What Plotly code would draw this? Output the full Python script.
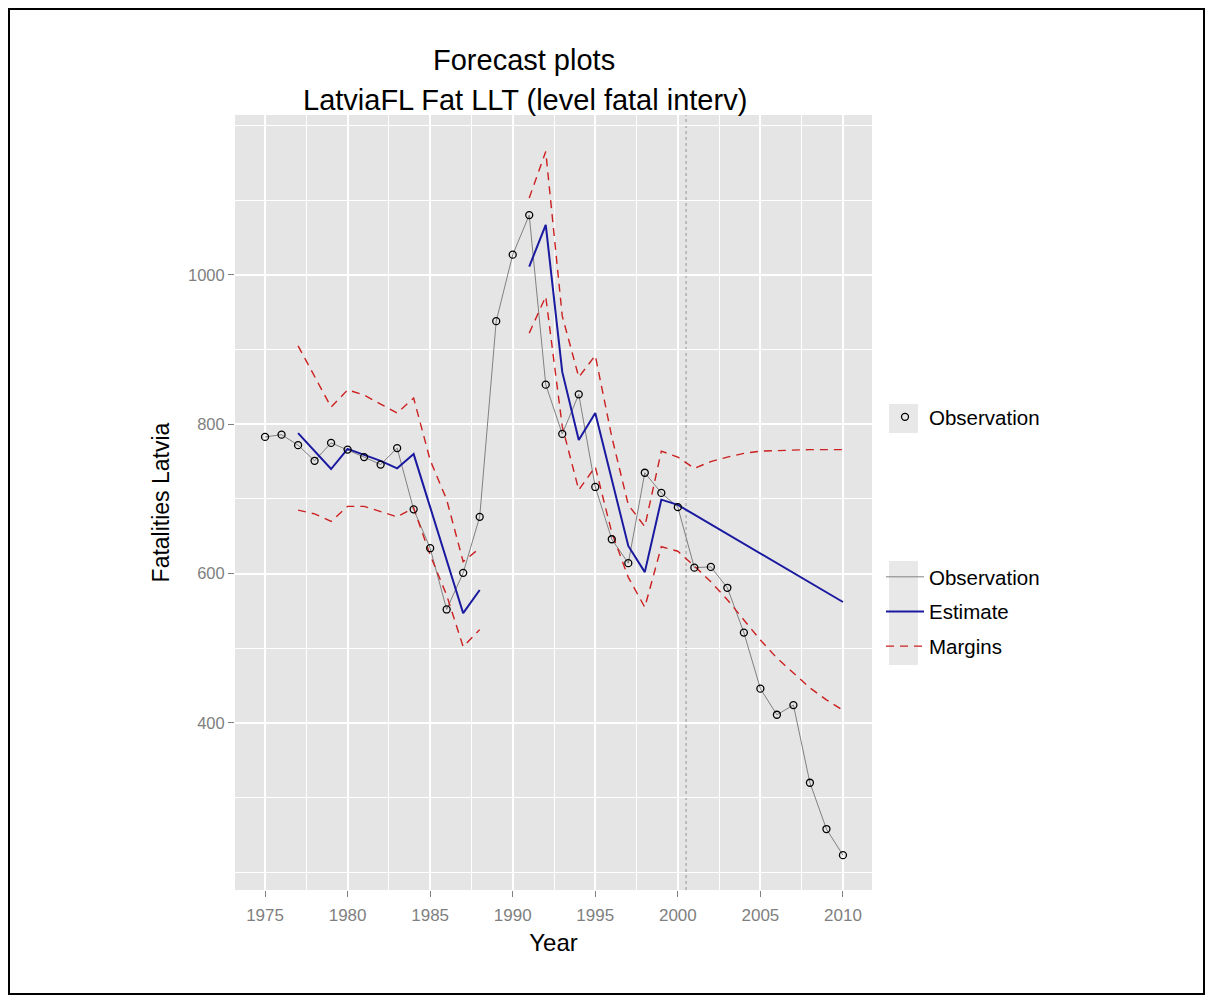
import plotly.graph_objects as go

years = list(range(1975, 2011))

observation = [783, 786, 772, 751, 775, 766, 756, 746, 768, 686, 634, 552, 601, 676,
               938, 1027, 1080, 853, 787, 840, 716, 646, 614, 735, 708, 689,
               608, 609, 581, 521, 446, 411, 424, 320, 258, 223]

estimate = [None, None, 788, 764, 740, 767, 759, 751, 741, 760, 689, 618, 547, 578,
            None, None, 1011, 1067, 870, 779, 815, 727, 637, 602, 699, 692,
            679, 666, 653, 640, 627, 614, 601, 588, 575, 562]

margin_upper = [None, None, 905, 863, 823, 846, 839, 827, 815, 835, 752, 699, 616, 634,
                None, None, 1103, 1165, 945, 863, 892, 783, 692, 663, 764, 756,
                741, 750, 756, 761, 764, 765, 766, 766, 766, 766]

margin_lower = [None, None, 685, 680, 670, 690, 690, 683, 676, 688, 625, 571, 502, 525,
                None, None, 922, 971, 797, 712, 743, 655, 595, 555, 636, 630,
                610, 589, 565, 538, 511, 487, 467, 447, 431, 417]

x_ticks = [1975, 1980, 1985, 1990, 1995, 2000, 2005, 2010]
y_ticks = [400, 600, 800, 1000]
forecast_start = 2000.5

FONT = "Liberation Sans, Arial, sans-serif"
OBS_GRAY = "#808080"
EST_BLUE = "#1a1aa0"
MARGIN_RED = "#cc1f1f"

fig = go.Figure()

fig.add_trace(go.Scatter(x=years, y=observation, mode="lines", name="Observation",
                         line=dict(color=OBS_GRAY, width=1), legend="legend2",
                         legendgroup="g1"))
fig.add_trace(go.Scatter(x=years, y=estimate, mode="lines", name="Estimate",
                         line=dict(color=EST_BLUE, width=2), connectgaps=False,
                         legend="legend2", legendgroup="g2"))
fig.add_trace(go.Scatter(x=years, y=margin_upper, mode="lines", name="Margins",
                         line=dict(color=MARGIN_RED, width=1.4, dash="8px,6px"),
                         connectgaps=False, legend="legend2", legendgroup="g3"))
fig.add_trace(go.Scatter(x=years, y=margin_lower, mode="lines", name="Margins",
                         line=dict(color=MARGIN_RED, width=1.4, dash="8px,6px"),
                         connectgaps=False, showlegend=False, legendgroup="g3"))
fig.add_trace(go.Scatter(x=years, y=observation, mode="markers", name="Observation",
                         marker=dict(symbol="circle-open", size=7, color="black",
                                     line=dict(width=1.3, color="black")),
                         legend="legend"))

OFF = 8  # page body margin
W, H = 1197, 987
L, T = 235 - OFF, 115 - OFF
R = W - (872 - OFF)
B = H - (890 - OFF)
PW, PH = W - L - R, H - T - B


def px_x(px):
    return (px - OFF - L) / PW


def px_y(py):
    return (H - B - (py - OFF)) / PH


def fx(fpx):
    return (fpx - L) / PW


def fy(fpy):
    return (H - B - fpy) / PH


shapes = [
    dict(type="line", xref="x", yref="paper", x0=forecast_start, x1=forecast_start,
         y0=0, y1=1, line=dict(color="#a0a0a0", width=1.2, dash="dot"), layer="between"),
    dict(type="rect", xref="paper", yref="paper", x0=fx(1), x1=fx(W - 1),
         y0=fy(H - 1), y1=fy(1), line=dict(color="black", width=2)),
    # legend key backgrounds
    dict(type="rect", xref="paper", yref="paper", x0=px_x(889), x1=px_x(918),
         y0=px_y(433), y1=px_y(404), fillcolor="#e8e8e8", line=dict(width=0), layer="below"),
    dict(type="rect", xref="paper", yref="paper", x0=px_x(889), x1=px_x(918),
         y0=px_y(665), y1=px_y(561), fillcolor="#e8e8e8", line=dict(width=0), layer="below"),
]

annotations = [
    dict(text="Forecast plots", xref="paper", yref="paper", x=px_x(524), y=px_y(60),
         showarrow=False, font=dict(family=FONT, size=29, color="black"),
         xanchor="center", yanchor="middle"),
    dict(text="LatviaFL Fat LLT (level fatal interv)", xref="paper", yref="paper",
         x=px_x(525), y=px_y(100), showarrow=False,
         font=dict(family=FONT, size=29, color="black"),
         xanchor="center", yanchor="middle"),
]

fig.update_layout(
    width=W, height=H,
    margin=dict(l=L, r=R, t=T, b=B),
    paper_bgcolor="white",
    plot_bgcolor="#e5e5e5",
    shapes=shapes,
    annotations=annotations,
    font=dict(family=FONT),
    legend=dict(x=px_x(881), y=px_y(397), xanchor="left", yanchor="top",
                bgcolor="rgba(0,0,0,0)", font=dict(family=FONT, size=20.5, color="black"),
                itemwidth=38),
    legend2=dict(x=px_x(881), y=px_y(557), xanchor="left", yanchor="top",
                 bgcolor="rgba(0,0,0,0)", font=dict(family=FONT, size=20.5, color="black"),
                 itemwidth=38, tracegroupgap=5, traceorder="grouped"),
    xaxis=dict(
        range=[1973.18, 2011.76], tickvals=x_ticks, ticks="outside", ticklen=6,
        tickcolor="#7f7f7f", tickwidth=1.2, ticklabelstandoff=4,
        tickfont=dict(family=FONT, size=17, color="#7f7f7f"),
        showgrid=True, gridcolor="white", gridwidth=1.6, zeroline=False, showline=False,
        minor=dict(tickvals=[1972.5, 1977.5, 1982.5, 1987.5, 1992.5, 1997.5, 2002.5, 2007.5],
                   showgrid=True, gridcolor="white", gridwidth=0.7, ticks=""),
        title=dict(text="Year", font=dict(family=FONT, size=24, color="black"), standoff=9),
    ),
    yaxis=dict(
        range=[176.4, 1214], tickvals=y_ticks, ticks="outside", ticklen=6,
        tickcolor="#7f7f7f", tickwidth=1.2,
        tickfont=dict(family=FONT, size=16.5, color="#7f7f7f"),
        showgrid=True, gridcolor="white", gridwidth=1.6, zeroline=False, showline=False,
        minor=dict(tickvals=[200, 300, 500, 700, 900, 1100, 1200],
                   showgrid=True, gridcolor="white", gridwidth=0.7, ticks=""),
        title=dict(text="Fatalities Latvia", font=dict(family=FONT, size=23, color="black"),
                   standoff=11),
    ),
)

fig.write_html("out.html")
